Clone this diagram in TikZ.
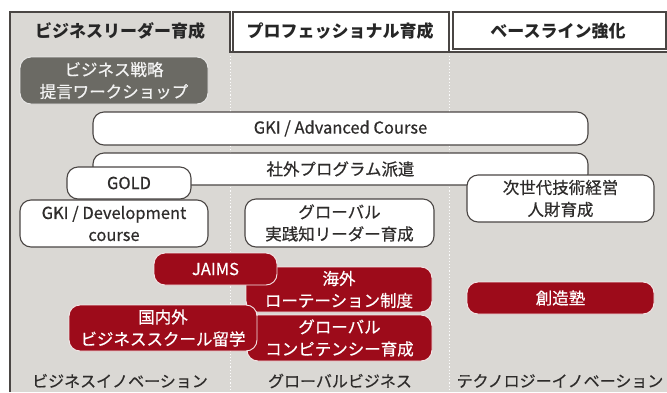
\documentclass[tikz,border=0pt]{standalone}
\usepackage{fontspec}
\setmainfont{Noto Sans CJK JP}
\newfontfamily\medfont{Noto Sans CJK JP}[FakeBold=0.45]
\definecolor{panelgray}{HTML}{DAD8D4}
\definecolor{edgec}{HTML}{4A4644}
\definecolor{txtc}{HTML}{2E2C2B}
\definecolor{redc}{HTML}{9D0B1A}
\definecolor{darkg}{HTML}{6B6A64}
\tikzset{
  box/.style={rounded corners=11pt, draw=edgec, line width=1.1pt, fill=white, text=txtc,
    align=center, inner sep=0pt, anchor=center, font=\medfont\fontsize{16.5}{22}\selectfont},
  redbox/.style={box, draw=white!90!redc, line width=0.9pt, fill=redc, text=white},
  graybox/.style={box, draw=white!85!darkg, line width=0.9pt, fill=darkg, text=white!92!darkg},
  tabtitle/.style={font=\fontsize{17}{20}\selectfont\bfseries, text=black!85, anchor=center, inner sep=0pt},
  foot/.style={font=\medfont\fontsize{16}{20}\selectfont, text=txtc, anchor=center, inner sep=0pt},
  divider/.style={white!95!panelgray, line width=1pt, dash pattern=on 1.2pt off 2pt},
  edge/.style={draw=edgec, line width=1.4pt}
}
\begin{document}
\begin{tikzpicture}[x=1pt,y=-1pt]
\useasboundingbox (0,0) rectangle (667,392);
\fill[white] (0,0) rectangle (667,392);
% panel
\fill[panelgray] (10,51) rectangle (667,392);
\fill[panelgray] (10,12) rectangle (230,52);
% tabs
\filldraw[fill=white, edge] (233,12) rectangle (449,52);
\filldraw[fill=white, edge] (453,12) rectangle (666,49);
\draw[edge] (10,392) -- (10,12) -- (230,12) -- (230,53);
\draw[edge, line width=1.8pt] (230,52) -- (667,52);
% dividers
\coordinate (d1t) at (230,56); \coordinate (d1b) at (230,392);
\coordinate (d2t) at (449,56); \coordinate (d2b) at (449,392);
\draw[divider] (d1t) -- (d1b);
\draw[divider] (d2t) -- (d2b);
% tab titles
\node[tabtitle] (t1) at (120,31) {ビジネスリーダー育成};
\node[tabtitle] (t2) at (340,31) {プロフェッショナル育成};
\node[tabtitle] (t3) at (558,31) {ベースライン強化};
% nodes
\node[graybox, minimum width=188pt, minimum height=47pt] (ws) at (114,80.5) {ビジネス戦略\\提言ワークショップ};
\node[box, minimum width=495pt, minimum height=33pt] (adv) at (340.5,128.5) {GKI / Advanced Course};
\node[box, minimum width=495pt, minimum height=32pt] (gaibu) at (340.5,169) {社外プログラム派遣};
\node[box, minimum width=187pt, minimum height=47pt] (jisedai) at (560.5,198.5) {次世代技術経営\\人財育成};
\node[box, minimum width=124pt, minimum height=32pt] (gold) at (129,183) {GOLD};
\node[box, minimum width=188pt, minimum height=47pt] (dev) at (114,223.5) {GKI / Development\\course};
\node[box, minimum width=189pt, minimum height=48pt] (jissen) at (339.5,223) {グローバル\\実践知リーダー育成};
\node[redbox, minimum width=186pt, minimum height=45pt] (kaigai) at (339,289.5) {海外\\ローテーション制度};
\node[redbox, minimum width=185pt, minimum height=46pt] (comp) at (339.5,338) {グローバル\\コンピテンシー育成};
\node[redbox, minimum width=188pt, minimum height=46pt] (kokunai) at (163,328) {国内外\\ビジネススクール留学};
\node[redbox, minimum width=123pt, minimum height=32pt] (jaims) at (215.5,269) {JAIMS};
\node[redbox, minimum width=187pt, minimum height=32pt] (sozo) at (560.5,298) {創造塾};
% footer labels
\node[foot] (f1) at (120,381) {ビジネスイノベーション};
\node[foot] (f2) at (340,381) {グローバルビジネス};
\node[foot] (f3) at (560,381) {テクノロジーイノベーション};
\end{tikzpicture}
\end{document}
